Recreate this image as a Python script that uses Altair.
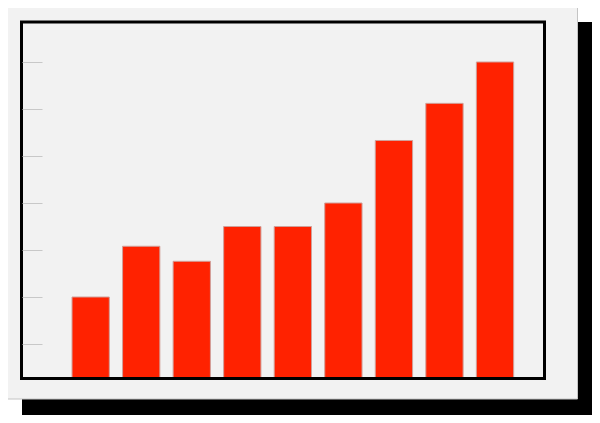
import altair as alt
import pandas as pd

# Data
categories = ["1", "2", "3", "4", "5", "6", "7", "8", "9"]
values = [20.0, 30.8, 27.6, 35.0, 35.0, 40.0, 53.3, 61.2, 70.0]
tick_values = [10, 20, 30, 40, 50, 60, 70]
y_domain = [2.77, 78.51]

df = pd.DataFrame({"category": categories, "value": values})
one = alt.Data(values=[{"k": 0}])

shadow = alt.Chart(one).mark_rect(color="black").encode(
    x=alt.value(0), x2=alt.value(578), y=alt.value(0), y2=alt.value(402)
)

panel = alt.Chart(one).mark_rect(fill="#f2f2f2", stroke="#c4c4c4", strokeWidth=1).encode(
    x=alt.value(-15), x2=alt.value(555.5), y=alt.value(-15), y2=alt.value(377)
)

bars = alt.Chart(df).mark_bar(color="#ff2200", stroke="#d0a09a", strokeWidth=1).encode(
    x=alt.X(
        "category:N",
        sort=categories,
        axis=None,
        scale=alt.Scale(paddingInner=0.262, paddingOuter=0.795, align=0.6225),
    ),
    y=alt.Y(
        "value:Q",
        scale=alt.Scale(domain=y_domain, nice=False, zero=False),
        axis=alt.Axis(
            values=tick_values,
            labels=False,
            domain=False,
            grid=False,
            title="",
            ticks=True,
            tickSize=20,
            tickColor="#c8c8c8",
            tickWidth=1,
            offset=-20,
            zindex=1,
        ),
    ),
    y2=alt.datum(y_domain[0]),
)

frame = alt.Chart(one).mark_rect(fillOpacity=0, stroke="black", strokeWidth=3).encode(
    x=alt.value(-0.5), x2=alt.value(522.5), y=alt.value(0), y2=alt.value(356.5)
)

chart = alt.layer(shadow, panel, bars, frame).properties(
    width=522,
    height=356,
    autosize="none",
    padding={"left": 14, "top": 14, "right": 48, "bottom": 37},
    background="white",
).configure_view(stroke="transparent")

chart.save("out.html", embed_options={"renderer": "svg", "actions": False})
